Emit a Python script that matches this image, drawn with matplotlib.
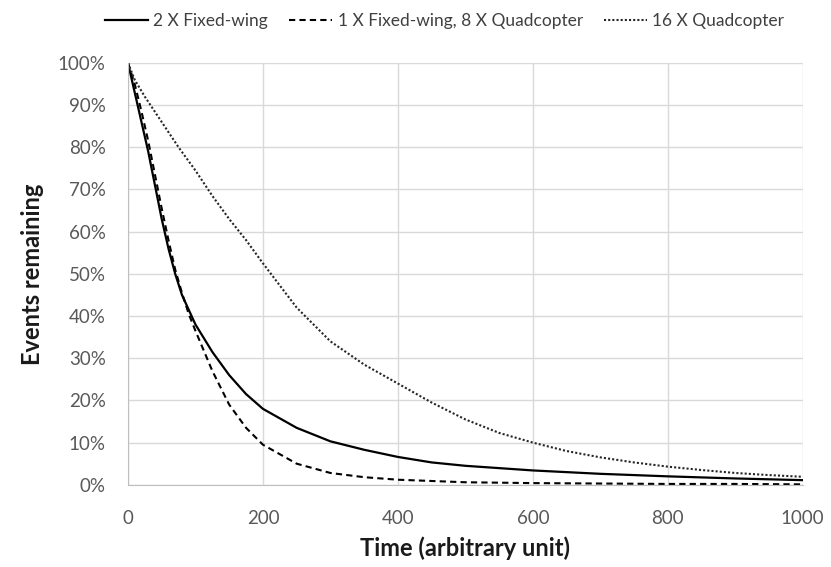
import numpy as np
import matplotlib.pyplot as plt

plt.rcParams['font.family'] = ['Lato', 'DejaVu Sans']

# time points
t_solid = [0, 10, 20, 30, 40, 50, 60, 70, 80, 90, 100, 125, 150, 175, 200,
           250, 300, 350, 400, 450, 500, 600, 700, 800, 900, 1000]
fixed_wing = [100, 93, 86, 79, 71, 63, 56, 50, 45, 41.5, 38, 31.5, 26, 21.5, 18,
              13.5, 10.3, 8.3, 6.6, 5.3, 4.5, 3.4, 2.6, 2.0, 1.5, 1.1]

t_dash = [0, 10, 20, 30, 40, 50, 60, 70, 80, 90, 100, 125, 150, 175, 200,
          250, 300, 350, 400, 500, 600, 700, 800, 900, 1000]
mixed = [100, 95, 88.5, 81.5, 73.5, 65.5, 58, 51, 45.5, 40.5, 36.5, 27, 19, 13.5, 9.5,
         5, 2.8, 1.8, 1.2, 0.6, 0.4, 0.3, 0.2, 0.2, 0.1]

t_dot = [0, 10, 25, 50, 75, 100, 125, 150, 175, 200, 250, 300, 350, 400, 450,
         500, 550, 600, 650, 700, 750, 800, 850, 900, 950, 1000]
quadcopter = [100, 96, 92, 86, 80, 74.5, 68.5, 63, 58, 52.5, 42, 34, 28.5, 24, 19.5,
              15.5, 12.3, 10, 8, 6.5, 5.3, 4.3, 3.5, 2.8, 2.3, 1.9]

x_ticks = [0, 200, 400, 600, 800, 1000]
y_ticks = [0, 10, 20, 30, 40, 50, 60, 70, 80, 90, 100]

fig = plt.figure(figsize=(8.31, 5.67), dpi=100)
ax = fig.add_axes([0.154, 0.145, 0.812, 0.744])

ax.plot(t_solid, fixed_wing, color='black', lw=1.6, ls='-',
        label='2 X Fixed-wing')
ax.plot(t_dash, mixed, color='black', lw=1.5, ls=(0, (3, 2)),
        label='1 X Fixed-wing, 8 X Quadcopter')
ax.plot(t_dot, quadcopter, color='#262626', lw=1.5, ls=(0, (1, 1)),
        label='16 X Quadcopter')

ax.set_xlim(0, 1000)
ax.set_ylim(0, 100)
ax.set_xticks(x_ticks)
ax.set_yticks(y_ticks)
ax.set_yticklabels(['{}%'.format(v) for v in y_ticks])
ax.tick_params(length=0, labelsize=13.5, labelcolor='#595959')
ax.tick_params(axis='y', pad=16)
ax.tick_params(axis='x', pad=18)
ax.grid(True, color='#d9d9d9', lw=1)
ax.set_axisbelow(True)
for s in ['top', 'right']:
    ax.spines[s].set_visible(False)
for s in ['left', 'bottom']:
    ax.spines[s].set_color('#bfbfbf')

ax.set_xlabel('Time (arbitrary unit)', fontsize=17, fontweight='bold',
              color='#1a1a1a', labelpad=7)
ax.set_ylabel('Events remaining', fontsize=17, fontweight='bold',
              color='#1a1a1a', labelpad=10)

fig.legend(loc='center', bbox_to_anchor=(0.535, 0.963), ncol=3, frameon=False,
           fontsize=12.5, handlelength=2.5, handletextpad=0.3, columnspacing=1.2,
           labelcolor='#404040')

fig.savefig('out.png', dpi=100)
